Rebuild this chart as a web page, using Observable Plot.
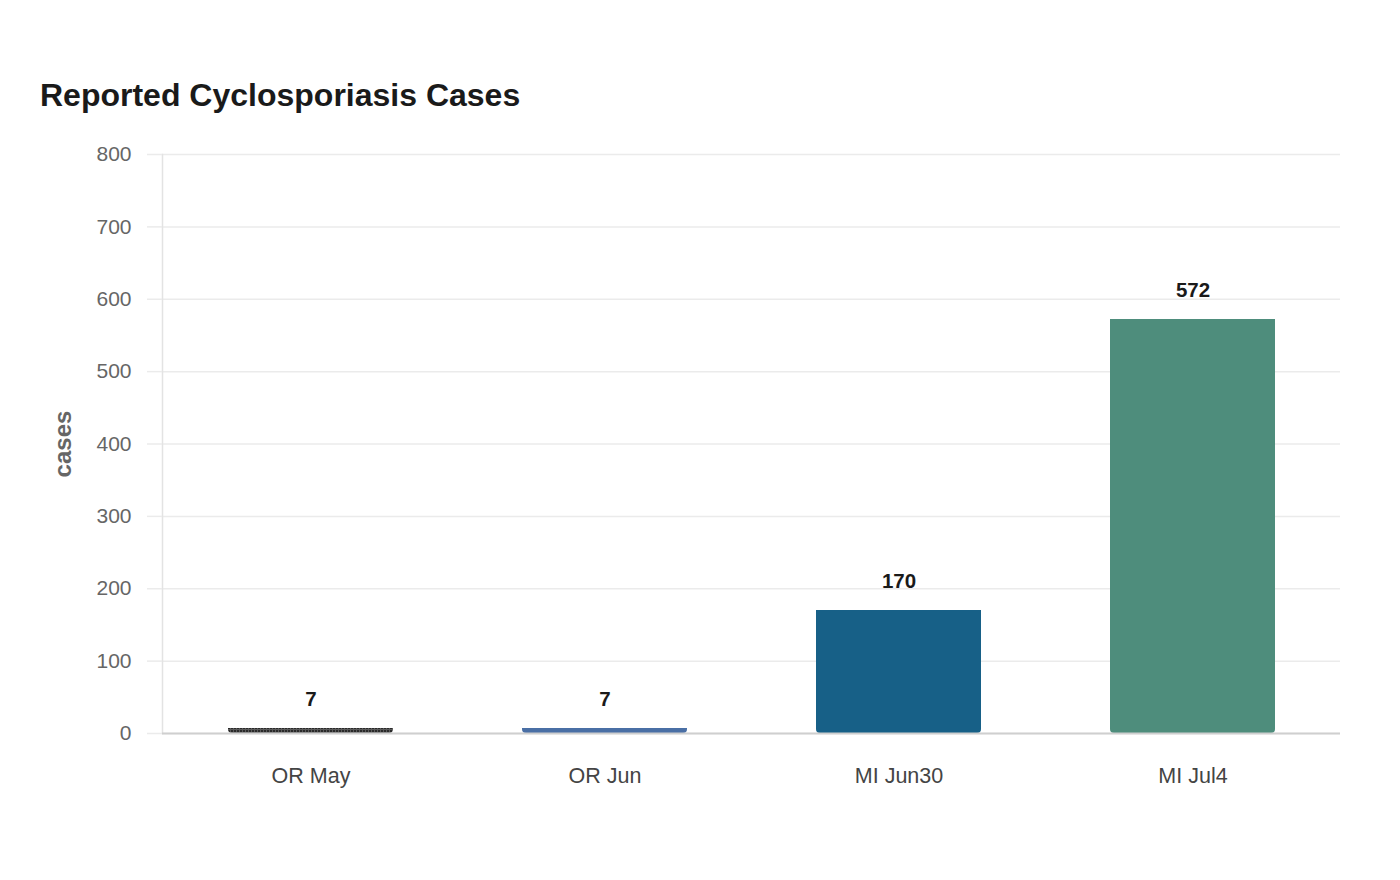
<!DOCTYPE html>
<html>
<head>
<meta charset="utf-8">
<script src="https://cdn.jsdelivr.net/npm/d3@7"></script>
<script src="https://cdn.jsdelivr.net/npm/@observablehq/plot@0.6"></script>
<style>
  body { margin: 0; background: #fff; font-family: "Liberation Sans", Arial, sans-serif; }
  #title { position: absolute; left: 40px; top: 75px; font-size: 32px; font-weight: bold; color: #1a1a1a; line-height: 40px; white-space: nowrap; }
  #chart { position: absolute; left: 0; top: 130px; }
  #chart svg { font-family: "Liberation Sans", Arial, sans-serif; }
  g[aria-label="y-axis tick label"] text { fill: #666; }
  g[aria-label="x-axis tick label"] text { fill: #444; }
  g[aria-label="y-axis label"] text { fill: #666; font-weight: bold; font-size: 24px; }
</style>
</head>
<body>
<div id="title">Reported Cyclosporiasis Cases</div>
<div id="chart"></div>
<svg width="0" height="0" style="position:absolute">
  <defs>
    <pattern id="dots" width="3" height="3" patternUnits="userSpaceOnUse">
      <rect width="3" height="3" fill="#5a5a5a"></rect>
      <rect width="2" height="2" fill="#2a2a2a"></rect>
    </pattern>
  </defs>
</svg>
<script>
const categories = ["OR May", "OR Jun", "MI Jun30", "MI Jul4"];
const cases = [7, 7, 170, 572];
const colors = ["url(#dots)", "#4a6fa5", "#176087", "#4e8d7c"];
const yTicks = [0, 100, 200, 300, 400, 500, 600, 700, 800];

const data = categories.map((c, i) => ({category: c, cases: cases[i], color: colors[i]}));

const chart = Plot.plot({
  width: 1400,
  height: 750,
  marginTop: 24,
  marginBottom: 147,
  marginLeft: 162,
  marginRight: 60,
  style: {fontSize: "21px", fontFamily: "Liberation Sans, Arial, sans-serif", background: "#fff"},
  x: {domain: categories, paddingInner: 0.44, paddingOuter: 0.22, label: null},
  y: {domain: [0, 800], ticks: yTicks, label: "cases"},
  color: {type: "identity"},
  marks: [
    Plot.gridY(yTicks, {stroke: "#ebebeb", strokeOpacity: 1, strokeWidth: 1.5}),
    Plot.frame({anchor: "left", stroke: "#e3e3e3", strokeWidth: 1.5}),
    Plot.axisY({ticks: yTicks, tickSize: 15, tickPadding: 16, stroke: "#ebebeb", strokeOpacity: 1, strokeWidth: 1.5, label: "cases", labelAnchor: "center", labelOffset: 109, labelArrow: "none", fontSize: 21}),
    Plot.axisX({tickSize: 0, tickPadding: 34, fontSize: 21.5, label: null}),
    Plot.barY(data, {x: "category", y: "cases", fill: "color", ry2: 4}),
    Plot.ruleY([0], {stroke: "#cfcfcf", strokeWidth: 2}),
    Plot.text(data, {x: "category", y: "cases", text: d => String(d.cases), dy: -29, fontSize: 20.5, fontWeight: "bold", fill: "#1a1a1a"})
  ]
});
document.getElementById("chart").appendChild(chart);
</script>
</body>
</html>
